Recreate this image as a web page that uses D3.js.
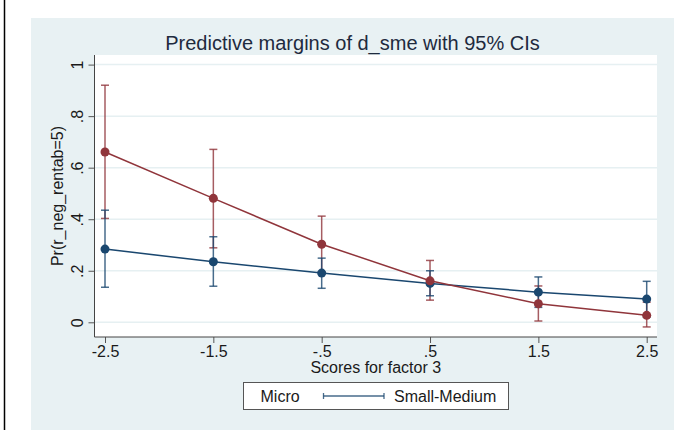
<!DOCTYPE html>
<html>
<head>
<meta charset="utf-8">
<script src="https://cdn.jsdelivr.net/npm/d3@7"></script>
<style>
  body { margin: 0; background: #fff; }
  text { font-family: "Liberation Sans", Arial, sans-serif; fill: #1a1a1a; }
</style>
</head>
<body>
<div id="chart"></div>
<script>
// data
var xVals = [-2.5, -1.5, -0.5, 0.5, 1.5, 2.5];
var xTickLabels = ["-2.5", "-1.5", "-.5", ".5", "1.5", "2.5"];
var yTicks = [0, 0.2, 0.4, 0.6, 0.8, 1];
var yTickLabels = ["0", ".2", ".4", ".6", ".8", "1"];

var micro   = [0.284, 0.235, 0.191, 0.151, 0.117, 0.090];
var microLo = [0.136, 0.140, 0.132, 0.103, 0.058, 0.020];
var microHi = [0.435, 0.332, 0.249, 0.200, 0.176, 0.159];

var sme   = [0.661, 0.481, 0.303, 0.161, 0.072, 0.027];
var smeLo = [0.403, 0.289, 0.195, 0.086, 0.005, -0.018];
var smeHi = [0.920, 0.671, 0.412, 0.240, 0.141, 0.078];

var seriesNames = ["Micro", "Small-Medium"];

var W = 674, H = 430;
var blue = "#1a476f", red = "#90353b";

var svg = d3.select("#chart").append("svg")
  .attr("width", W)
  .attr("height", H);

// outer graph background
svg.append("rect").attr("x", 31).attr("y", 18)
  .attr("width", W - 31).attr("height", H - 18)
  .attr("fill", "#e8f1f3");
// black line at far left
svg.append("line").attr("x1", 4.5).attr("x2", 4.5).attr("y1", 0).attr("y2", H)
  .attr("stroke", "#000").attr("stroke-width", 1.5);

// plot region
var plot = { left: 94.5, right: 657, top: 55, bottom: 337 };
svg.append("rect").attr("x", plot.left).attr("y", plot.top)
  .attr("width", plot.right - plot.left).attr("height", plot.bottom - plot.top)
  .attr("fill", "#fff");

var x = d3.scaleLinear().domain([-2.5, 2.5]).range([105, 646.7]);
var y = d3.scaleLinear().domain([0, 1]).range([322.3, 64.6]);

// gridlines
svg.append("g").selectAll("line").data(yTicks).enter().append("line")
  .attr("x1", plot.left).attr("x2", plot.right)
  .attr("y1", function (d) { return y(d); })
  .attr("y2", function (d) { return y(d); })
  .attr("stroke", "#e6f0f2").attr("stroke-width", 1.5);

// x axis
var xAxis = svg.append("g")
  .attr("transform", "translate(0," + plot.bottom + ")")
  .call(d3.axisBottom(x).tickValues(xVals).tickSize(6)
    .tickFormat(function (d, i) { return xTickLabels[i]; }));
xAxis.select(".domain").remove();
xAxis.selectAll(".tick line").attr("stroke", "#555");
xAxis.selectAll(".tick text")
  .attr("y", 20).attr("dy", 0)
  .style("font-size", "16px").style("font-family", "Liberation Sans, Arial, sans-serif")
  .attr("fill", "#1a1a1a");

// y axis
var yAxis = svg.append("g")
  .attr("transform", "translate(" + plot.left + ",0)")
  .call(d3.axisLeft(y).tickValues(yTicks).tickSize(6)
    .tickFormat(function (d, i) { return yTickLabels[i]; }));
yAxis.select(".domain").remove();
yAxis.selectAll(".tick line").attr("stroke", "#555");
yAxis.selectAll(".tick text")
  .attr("x", null).attr("dy", null)
  .attr("text-anchor", "middle")
  .attr("transform", "translate(-11.5,0) rotate(-90)")
  .style("font-size", "16px").style("font-family", "Liberation Sans, Arial, sans-serif")
  .attr("fill", "#1a1a1a");

// axis lines
svg.append("line").attr("x1", plot.left).attr("x2", plot.left)
  .attr("y1", plot.top).attr("y2", plot.bottom)
  .attr("stroke", "#444").attr("stroke-width", 1);
svg.append("line").attr("x1", plot.left).attr("x2", plot.right)
  .attr("y1", plot.bottom).attr("y2", plot.bottom)
  .attr("stroke", "#444").attr("stroke-width", 1);

// confidence intervals
function drawCI(lo, hi, color) {
  var g = svg.append("g").attr("stroke", color).attr("stroke-opacity", 0.8).attr("stroke-width", 1.5);
  xVals.forEach(function (xv, i) {
    g.append("line").attr("x1", x(xv)).attr("x2", x(xv))
      .attr("y1", y(lo[i])).attr("y2", y(hi[i]));
    g.append("line").attr("x1", x(xv) - 4).attr("x2", x(xv) + 4)
      .attr("y1", y(lo[i])).attr("y2", y(lo[i]));
    g.append("line").attr("x1", x(xv) - 4).attr("x2", x(xv) + 4)
      .attr("y1", y(hi[i])).attr("y2", y(hi[i]));
  });
}
drawCI(smeLo, smeHi, red);
drawCI(microLo, microHi, blue);

// lines + markers
var line = d3.line()
  .x(function (d, i) { return x(xVals[i]); })
  .y(function (d) { return y(d); });

function drawSeries(vals, color) {
  svg.append("path").datum(vals)
    .attr("d", line).attr("fill", "none")
    .attr("stroke", color).attr("stroke-width", 1.5);
  svg.append("g").selectAll("circle").data(vals).enter().append("circle")
    .attr("cx", function (d, i) { return x(xVals[i]); })
    .attr("cy", function (d) { return y(d); })
    .attr("r", 4.5).attr("fill", color);
}
drawSeries(micro, blue);
drawSeries(sme, red);

// title
svg.append("text").attr("x", 352.5).attr("y", 50)
  .attr("text-anchor", "middle").style("font-size", "20px")
  .style("fill", "#1e2a3e")
  .text("Predictive margins of d_sme with 95% CIs");

// axis titles
var cx = (plot.left + plot.right) / 2;
svg.append("text").attr("x", cx).attr("y", 373)
  .attr("text-anchor", "middle").style("font-size", "16px")
  .text("Scores for factor 3");
svg.append("text")
  .attr("transform", "translate(63," + ((plot.top + plot.bottom) / 2) + ") rotate(-90)")
  .attr("text-anchor", "middle").style("font-size", "16px")
  .text("Pr(r_neg_rentab=5)");

// legend
var leg = svg.append("g");
leg.append("rect").attr("x", 243.5).attr("y", 382.5)
  .attr("width", 265).attr("height", 27)
  .attr("fill", "#fff").attr("stroke", "#555").attr("stroke-width", 1);
leg.append("text").attr("x", 260.5).attr("y", 401.5)
  .style("font-size", "16px").text(seriesNames[0]);
var key = leg.append("g").attr("stroke", blue).attr("stroke-opacity", 0.8).attr("stroke-width", 1.3);
key.append("line").attr("x1", 323.5).attr("x2", 384).attr("y1", 396).attr("y2", 396);
key.append("line").attr("x1", 323.5).attr("x2", 323.5).attr("y1", 393).attr("y2", 399);
key.append("line").attr("x1", 384).attr("x2", 384).attr("y1", 393).attr("y2", 399);
leg.append("text").attr("x", 394).attr("y", 401.5)
  .style("font-size", "16px").text(seriesNames[1]);
</script>
</body>
</html>
